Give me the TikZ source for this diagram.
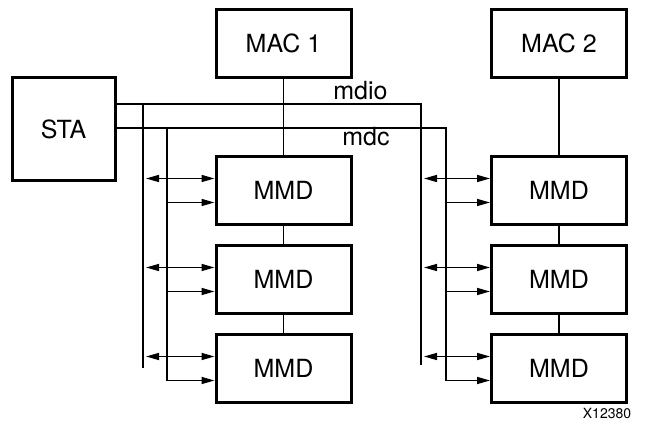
\documentclass[tikz,border=0pt]{standalone}
\usepackage{fontspec}
\setmainfont{TeX Gyre Heros}
\usetikzlibrary{positioning}
\usetikzlibrary{calc}
\usetikzlibrary{arrows.meta}

\begin{document}
\begin{tikzpicture}[x=0.5pt, y=-0.5pt,
    module/.style={draw, line width=1.5pt, minimum width=67.5pt, minimum height=34pt, font=\fontsize{12.5}{15}\selectfont},
    sta/.style={module, minimum width=51.5pt, minimum height=51.5pt},
    wire/.style={line width=0.75pt},
    arrow/.style={wire, -{Stealth[length=6.5pt, width=3.5pt, inset=0pt]}},
    duplex/.style={wire, {Stealth[length=6.5pt, width=3.5pt, inset=0pt]}-{Stealth[length=6.5pt, width=3.5pt, inset=0pt]}, shorten <=1.5pt},
    busname/.style={font=\fontsize{12.5}{15}\selectfont, inner sep=0pt},
]
\useasboundingbox (0,0) rectangle (657,431);

\node[sta] (sta) at (63.5,129.5) {STA};
\node[module] (mac1) at (283.5,43.5) {MAC 1};
\node[module] (mac2) at (559,43.5) {MAC 2};
\node[module, below=38pt of mac1] (mmd11) {MMD};
\node[module, below=9pt of mmd11] (mmd12) {MMD};
\node[module, below=9pt of mmd12] (mmd13) {MMD};
\node[module, below=38pt of mac2] (mmd21) {MMD};
\node[module, below=9pt of mmd21] (mmd22) {MMD};
\node[module, below=9pt of mmd22] (mmd23) {MMD};

\draw[wire] (mac1) -- (mmd11);
\draw[wire] (mmd11) -- (mmd12);
\draw[wire] (mmd12) -- (mmd13);
\draw[wire] (mac2) -- (mmd21);
\draw[wire] (mmd21) -- (mmd22);
\draw[wire] (mmd22) -- (mmd23);

% management bus
\coordinate (mdioL) at (143,104);
\coordinate (mdioR) at (421,104);
\coordinate (mdioLend) at (143,368);
\coordinate (mdioRend) at (421,365);
\coordinate (mdcL) at (167,128);
\coordinate (mdcR) at (446,128);

\draw[wire] (sta.east |- mdioR) -- (mdioR) -- (mdioRend);
\draw[wire] (mdioL) -- (mdioLend);
\draw[arrow] (sta.east |- mdcR) -- (mdcR) |- ($(mmd23.west)+(0,12)$);
\draw[arrow] (mdcL) |- ($(mmd13.west)+(0,12)$);

\draw[duplex] ($(mdioL |- mmd11.west)+(0,-12)$) -- ($(mmd11.west)+(0,-12)$);
\draw[duplex] ($(mdioL |- mmd12.west)+(0,-12)$) -- ($(mmd12.west)+(0,-12)$);
\draw[duplex] ($(mdioL |- mmd13.west)+(0,-12)$) -- ($(mmd13.west)+(0,-12)$);
\draw[duplex] ($(mdioR |- mmd21.west)+(0,-12)$) -- ($(mmd21.west)+(0,-12)$);
\draw[duplex] ($(mdioR |- mmd22.west)+(0,-12)$) -- ($(mmd22.west)+(0,-12)$);
\draw[duplex] ($(mdioR |- mmd23.west)+(0,-12)$) -- ($(mmd23.west)+(0,-12)$);
\draw[arrow] ($(mdcL |- mmd11.west)+(0,12)$) -- ($(mmd11.west)+(0,12)$);
\draw[arrow] ($(mdcL |- mmd12.west)+(0,12)$) -- ($(mmd12.west)+(0,12)$);
\draw[arrow] ($(mdcR |- mmd21.west)+(0,12)$) -- ($(mmd21.west)+(0,12)$);
\draw[arrow] ($(mdcR |- mmd22.west)+(0,12)$) -- ($(mmd22.west)+(0,12)$);

\node[busname, anchor=base west] (mdiolabel) at (333,100) {mdio};
\node[busname, anchor=base west] (mdclabel) at (342,146) {mdc};
\node[font=\fontsize{7}{8}\selectfont] (figid) at (607,414) {X12380};
\end{tikzpicture}
\end{document}
